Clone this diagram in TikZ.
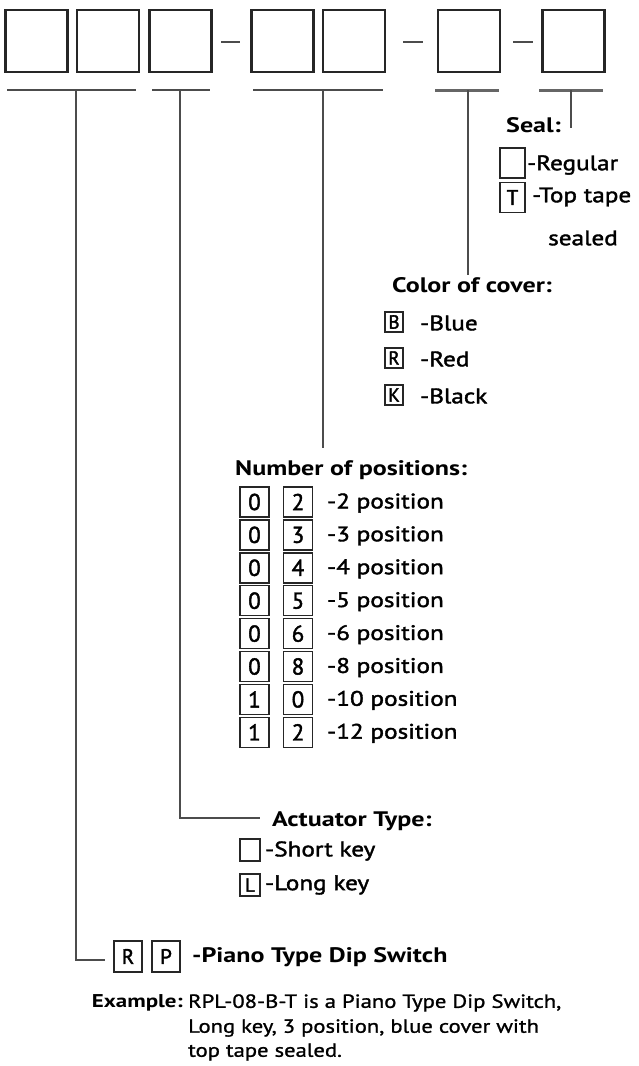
\documentclass[tikz,border=0pt]{standalone}
\usepackage{fontspec}
\setmainfont{PT Sans}
\newfontfamily\hdfont[FakeStretch=1.24]{PT Sans}
\newfontfamily\itfont[FakeStretch=1.2,FakeBold=1.8]{PT Sans}
\newfontfamily\exfont[FakeStretch=1.19,FakeBold=1.2]{PT Sans}
\newfontfamily\bxfont[FakeBold=1.8]{PT Sans}
\begin{document}
\begin{tikzpicture}[x=1pt,y=-1pt,
  topbox/.style={draw=black!85,line width=2.2pt,minimum width=62pt,minimum height=62pt,inner sep=0pt},
  rule/.style={draw=black!70,line width=2pt},
  thickrule/.style={draw=black!60,line width=3pt},
  conn/.style={draw=black!70,line width=1.8pt},
  head/.style={anchor=west,inner sep=0pt,font=\hdfont\fontsize{21}{23}\selectfont\bfseries},
  item/.style={anchor=west,inner sep=0pt,font=\itfont\fontsize{21}{23}\selectfont},
  extext/.style={anchor=west,inner sep=0pt,font=\exfont\fontsize{19}{21}\selectfont},
  lbox/.style={draw=black!85,line width=1.5pt,inner sep=0pt,font=\bxfont\fontsize{19}{21}\selectfont},
  sbox/.style={lbox,minimum width=18pt,minimum height=20pt},
  pbox/.style={lbox,minimum width=29pt,minimum height=30pt,font=\bxfont\fontsize{23}{25}\selectfont},
  rbox/.style={lbox,minimum width=28pt,minimum height=31pt,font=\bxfont\fontsize{21}{23}\selectfont},
  ebox/.style={lbox,minimum width=25pt,minimum height=30pt,font=\bxfont\fontsize{21}{23}\selectfont},
  abox/.style={lbox,minimum width=20pt,minimum height=22pt}]
\useasboundingbox[fill=white] (0,0) rectangle (638,1066);

% top code boxes
\node[topbox] (b1) at (36.5,41) {};
\node[topbox] (b2) at (108,41) {};
\node[topbox] (b3) at (180.5,41) {};
\node[topbox] (b4) at (282.5,41) {};
\node[topbox] (b5) at (354,41) {};
\node[topbox] (b6) at (469,41) {};
\node[topbox] (b7) at (573.5,41) {};
\draw[rule] (221,42) -- (240,42);
\draw[rule] (403,42) -- (423,42);
\draw[rule] (513,42) -- (533,42);

% underlines
\draw[rule] (7,90) -- (136,90);
\draw[rule] (152,90) -- (210,90);
\draw[rule] (253,90) -- (383,90);
\draw[thickrule] (435,90) -- (499,90);
\draw[thickrule] (539,90) -- (603,90);
\coordinate (t1) at (76,90);
\coordinate (t2) at (180,90);
\coordinate (t3) at (323,90);
\coordinate (t4) at (468,90);
\coordinate (t5) at (571,90);

% Seal
\node[head] (sealh) at (506,125) {Seal:};
\node[ebox] (s1) at (512.5,163) {};
\node[item] (s1t) at (527,165) {-Regular};
\node[ebox] (s2) at (512.5,197.5) {T};
\node[item] (s2t) at (532,197) {-Top tape};
\node[item] (s3t) at (548,238) {sealed};
\coordinate (e5) at (571,128);
\draw[conn] (t5) -- (e5);

% Color of cover
\node[head] (colh) at (392,285) {Color of cover:};
\node[sbox] (c1) at (394,322) {B};
\node[item] (c1t) at (420,323) {-Blue};
\node[sbox] (c2) at (394,358) {R};
\node[item] (c2t) at (420,359) {-Red};
\node[sbox] (c3) at (394,395) {K};
\node[item] (c3t) at (420,396) {-Black};
\coordinate (e4) at (468,275);
\draw[conn] (t4) -- (e4);

% Number of positions
\node[head] (posh) at (235,470) {Number of positions:};
\foreach \a/\b/\t [count=\i from 0] in {0/2/2,0/3/3,0/4/4,0/5/5,0/6/6,0/8/8,1/0/10,1/2/12}{
  \node[pbox] (pa\i) at (254.5,{502+32.9*\i}) {\a};
  \node[pbox] (pb\i) at (298,{502+32.9*\i}) {\b};
  \node[item] (pt\i) at (327,{503+32.9*\i}) {-\t\ position};
}
\coordinate (e3) at (323,448);
\draw[conn] (t3) -- (e3);

% Actuator type
\node[head] (acth) at (272,821) {Actuator Type:};
\node[abox] (a1) at (250,850) {};
\node[item] (a1t) at (265,851) {-Short key};
\node[abox] (a2) at (250,885) {L};
\node[item] (a2t) at (265,885) {-Long key};
\coordinate (e2) at (260,818);
\draw[conn] (t2) |- (e2);

% Piano type
\node[rbox] (r1) at (128,956.5) {R};
\node[rbox] (r2) at (166,956.5) {P};
\node[head] (rpt) at (192,957) {-Piano Type Dip Switch};
\coordinate (e1) at (105,960);
\draw[conn] (t1) |- (e1);

% Example
\node[head,anchor=east,font=\hdfont\fontsize{18.5}{21}\selectfont\bfseries] (exh) at (183,1003) {Example:};
\node[extext] (ex1) at (188,1003) {RPL-08-B-T is a Piano Type Dip Switch,};
\node[extext] (ex2) at (188,1028) {Long key, 3 position, blue cover with};
\node[extext] (ex3) at (188,1052) {top tape sealed.};
\end{tikzpicture}
\end{document}
